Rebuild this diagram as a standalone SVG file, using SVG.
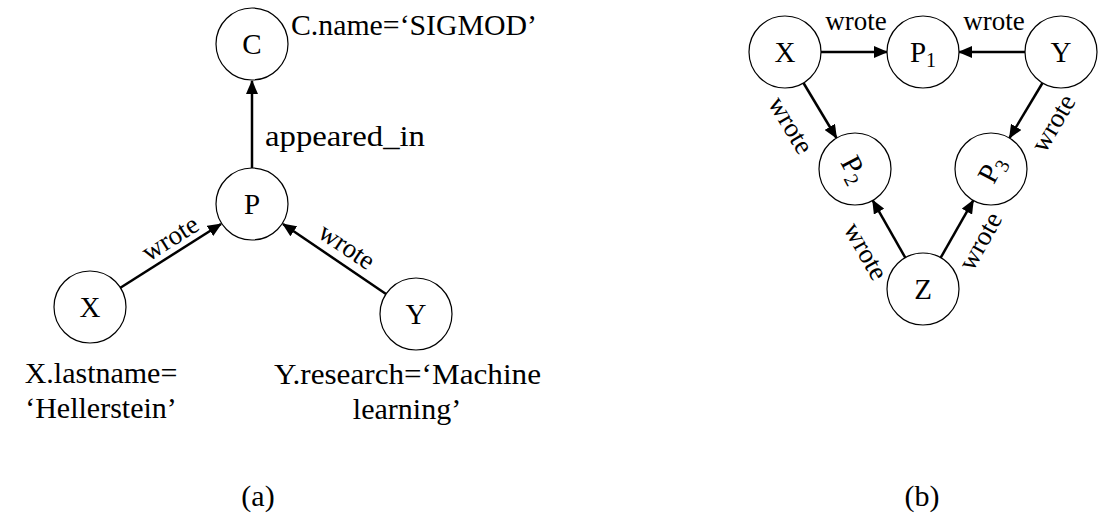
<svg xmlns="http://www.w3.org/2000/svg" width="1098" height="516" viewBox="0 0 1098 516">
  <style>
    text { font-family: "Liberation Serif", "DejaVu Serif", serif; fill: #000; }
    .node circle { fill: #fff; stroke: #000; stroke-width: 1.2; }
    .lbl { font-size: 29px; text-anchor: middle; dominant-baseline: central; }
    .sub { font-size: 20px; }
    .edge { stroke: #000; stroke-width: 2.5; fill: none; marker-end: url(#arrow); }
    .elbl { font-size: 27px; text-anchor: middle; }
    .note { font-size: 30px; }
    .cap { font-size: 30px; text-anchor: middle; }
  </style>
  <defs>
    <marker id="arrow" markerUnits="userSpaceOnUse" markerWidth="14" markerHeight="12" refX="13" refY="6" orient="auto">
      <path d="M0,0 L14,6 L0,12 Z" fill="#000"/>
    </marker>
  </defs>
  <rect width="1098" height="516" fill="#fff"/>

  <!-- (a) connectors -->
  <g id="edges-a">
    <line class="edge" x1="252" y1="168" x2="252" y2="81"/>
    <line class="edge" x1="120" y1="288" x2="221" y2="224"/>
    <line class="edge" x1="386" y1="294" x2="283" y2="224"/>
    <text class="elbl" dy="9" transform="translate(170,238) rotate(-32.3)">wrote</text>
    <text class="elbl" dy="9" transform="translate(347,246) rotate(33.8)">wrote</text>
    <text class="note" x="265" y="146" textLength="160" lengthAdjust="spacingAndGlyphs">appeared_in</text>
  </g>

  <!-- (a) nodes -->
  <g id="a-C" class="node">
    <circle cx="252" cy="44" r="36"/>
    <text class="lbl" x="252" y="44">C</text>
    <text class="note" x="291" y="35" textLength="246" lengthAdjust="spacingAndGlyphs">C.name=‘SIGMOD’</text>
  </g>
  <g id="a-P" class="node">
    <circle cx="252" cy="204" r="36"/>
    <text class="lbl" x="252" y="204">P</text>
  </g>
  <g id="a-X" class="node">
    <circle cx="90" cy="307" r="36"/>
    <text class="lbl" x="90" y="307">X</text>
    <text class="note" x="101" y="383" text-anchor="middle">X.lastname=</text>
    <text class="note" x="101" y="418" text-anchor="middle">‘Hellerstein’</text>
  </g>
  <g id="a-Y" class="node">
    <circle cx="416" cy="314" r="36"/>
    <text class="lbl" x="416" y="314">Y</text>
    <text class="note" x="274" y="384" textLength="267" lengthAdjust="spacingAndGlyphs">Y.research=‘Machine</text>
    <text class="note" x="407" y="419" text-anchor="middle">learning’</text>
  </g>

  <!-- (b) connectors -->
  <g id="edges-b">
    <line class="edge" x1="821" y1="52" x2="887" y2="52"/>
    <line class="edge" x1="1025" y1="52" x2="959" y2="52"/>
    <line class="edge" x1="803.5" y1="83" x2="836.5" y2="138"/>
    <line class="edge" x1="1042.5" y1="83" x2="1009.5" y2="138"/>
    <line class="edge" x1="905.3" y1="257.7" x2="872.7" y2="200.3"/>
    <line class="edge" x1="940.7" y1="257.7" x2="973.3" y2="200.3"/>
    <text class="elbl" x="856" y="30">wrote</text>
    <text class="elbl" x="994" y="30">wrote</text>
    <text class="elbl" dy="9" transform="translate(791,125) rotate(59)">wrote</text>
    <text class="elbl" dy="9" transform="translate(1053,123) rotate(-59)">wrote</text>
    <text class="elbl" dy="9" transform="translate(866,251) rotate(60.5)">wrote</text>
    <text class="elbl" dy="9" transform="translate(980,241) rotate(-60.5)">wrote</text>
  </g>

  <!-- (b) nodes -->
  <g id="b-X" class="node">
    <circle cx="785" cy="52" r="36"/>
    <text class="lbl" x="785" y="52">X</text>
  </g>
  <g id="b-P1" class="node">
    <circle cx="923" cy="52" r="36"/>
    <text class="lbl" x="923" y="52">P<tspan class="sub" dy="8">1</tspan></text>
  </g>
  <g id="b-Y" class="node">
    <circle cx="1061" cy="52" r="36"/>
    <text class="lbl" x="1061" y="52">Y</text>
  </g>
  <g id="b-P2" class="node">
    <circle cx="855" cy="169" r="36"/>
    <text class="lbl" transform="translate(855,169) rotate(62)">P<tspan class="sub" dy="8">2</tspan></text>
  </g>
  <g id="b-P3" class="node">
    <circle cx="991" cy="169" r="36"/>
    <text class="lbl" transform="translate(991,169) rotate(-62)">P<tspan class="sub" dy="8">3</tspan></text>
  </g>
  <g id="b-Z" class="node">
    <circle cx="923" cy="289" r="36"/>
    <text class="lbl" x="923" y="289">Z</text>
  </g>

  <!-- captions -->
  <text class="cap" x="258" y="506">(a)</text>
  <text class="cap" x="922" y="506">(b)</text>
</svg>
